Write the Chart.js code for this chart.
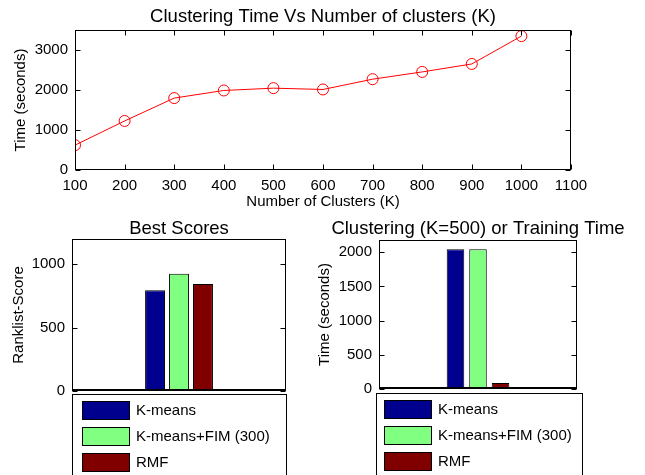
<!DOCTYPE html>
<html>
<head>
<meta charset="utf-8">
<script src="https://cdn.jsdelivr.net/npm/chart.js@4.4.1/dist/chart.umd.min.js"></script>
<style>
  body { margin: 0; background: #fff; width: 645px; height: 475px; position: relative; overflow: hidden; }
  canvas { position: absolute; }
  #topChart { left: 0; top: 0; }
  #leftChart { left: 0; top: 215px; }
  #rightChart { left: 310px; top: 215px; }
</style>
</head>
<body>
<canvas id="topChart" width="645" height="215"></canvas>
<canvas id="leftChart" width="310" height="260"></canvas>
<canvas id="rightChart" width="335" height="260"></canvas>
<script>
// top plot: clustering time per K
const clusterCounts = [100, 200, 300, 400, 500, 600, 700, 800, 900, 1000];
const clusterTimes = [621, 1226, 1798, 1988, 2046, 2013, 2270, 2452, 2651, 3347];
const xTicksTop = [100, 200, 300, 400, 500, 600, 700, 800, 900, 1000, 1100];
const yTicksTop = [0, 1000, 2000, 3000];

// bottom plots
const methods = ['K-means', 'K-means+FIM (300)', 'RMF'];
const bestScores = [795, 926, 845];
const trainingTimes = [2045, 2045, 88];
const yTicksScores = [0, 500, 1000];
const yTicksTimes = [0, 500, 1000, 1500, 2000];

const methodColors = ['#00008f', '#80ff80', '#800000'];
const FONT = "'Liberation Sans', Arial, sans-serif";

Chart.defaults.font.family = FONT;
Chart.defaults.font.size = 15;
Chart.defaults.color = '#000';

function useTicks(list) {
    return scale => { scale.ticks = list.map(v => ({ value: v })); };
}

const plainLabel = v => String(v);

function line(ctx, x1, y1, x2, y2) {
    ctx.beginPath();
    ctx.moveTo(x1, y1);
    ctx.lineTo(x2, y2);
    ctx.stroke();
}

// matlab style box, inward ticks, title and legend
const matlabAxes = {
    id: 'matlabAxes',
    afterDatasetsDraw(chart, args, opts) {
        const ctx = chart.ctx;
        const a = chart.chartArea;
        const L = Math.round(a.left) + 0.5, R = Math.round(a.right) - 0.5;
        const T = Math.round(a.top) + 0.5, B = Math.round(a.bottom) - 0.5;
        const tl = 5;
        ctx.save();
        ctx.strokeStyle = '#000';
        ctx.lineWidth = 1;

        if (opts.baseline) {
            const y0 = Math.round(chart.scales.y.getPixelForValue(0));
            ctx.lineWidth = 2;
            line(ctx, L, y0 - 1, R, y0 - 1);
            ctx.lineWidth = 1;
        }
        ctx.strokeRect(L, T, R - L, B - T);

        const ys = chart.scales.y;
        ys.ticks.forEach(t => {
            const py = Math.round(ys.getPixelForValue(t.value)) + 0.5;
            line(ctx, L, py, L + tl, py);
            line(ctx, R - tl, py, R, py);
        });
        if (opts.xTicks) {
            const xs = chart.scales.x;
            xs.ticks.forEach(t => {
                const px = Math.round(xs.getPixelForValue(t.value)) + 0.5;
                line(ctx, px, B, px, B - tl);
                line(ctx, px, T, px, T + tl);
            });
        }

        ctx.fillStyle = '#000';
        ctx.font = '18.5px ' + FONT;
        ctx.textAlign = 'center';
        ctx.textBaseline = 'middle';
        ctx.fillText(opts.title, (a.left + a.right) / 2 + (opts.titleShift || 0), opts.titleY);

        if (opts.legend) {
            const lg = opts.legend;
            ctx.fillStyle = '#fff';
            ctx.fillRect(lg.left, lg.top, lg.right - lg.left, chart.height - lg.top + 5);
            ctx.strokeRect(lg.left + 0.5, lg.top + 0.5, lg.right - lg.left, chart.height - lg.top + 5);
            ctx.font = '15px ' + FONT;
            ctx.textAlign = 'left';
            chart.data.datasets.forEach((ds, i) => {
                const y = lg.rowTop + i * 26;
                ctx.fillStyle = ds.backgroundColor;
                ctx.fillRect(lg.swatchX, y, 48, 19);
                ctx.strokeRect(lg.swatchX + 0.5, y + 0.5, 47, 18);
                ctx.fillStyle = '#000';
                ctx.fillText(ds.label, lg.swatchX + 54, y + 10);
            });
        }
        ctx.restore();
    }
};

new Chart(document.getElementById('topChart'), {
    type: 'line',
    data: {
        datasets: [{
            data: clusterCounts.map((k, i) => ({ x: k, y: clusterTimes[i] })),
            borderColor: '#ff0000',
            borderWidth: 1,
            pointStyle: 'circle',
            pointRadius: 5.5,
            pointBorderColor: '#ff0000',
            pointBackgroundColor: 'rgba(0,0,0,0)',
            pointBorderWidth: 1,
            tension: 0
        }]
    },
    options: {
        responsive: false,
        animation: false,
        layout: { padding: { top: 30, right: 74, left: 0, bottom: 0 } },
        plugins: {
            legend: { display: false },
            tooltip: { enabled: false },
            matlabAxes: { title: 'Clustering Time Vs Number of clusters (K)', titleY: 17, xTicks: true }
        },
        scales: {
            x: {
                type: 'linear', min: 100, max: 1100,
                afterBuildTicks: useTicks(xTicksTop),
                afterFit: s => { s.height = 45; },
                grid: { display: false, drawTicks: false },
                border: { display: false },
                ticks: { padding: 7, maxRotation: 0, callback: plainLabel },
                title: { display: true, text: 'Number of Clusters (K)', padding: { top: 0, bottom: 4 } }
            },
            y: {
                min: 0, max: 3500,
                afterBuildTicks: useTicks(yTicksTop),
                afterFit: s => { s.width = 75; },
                grid: { display: false, drawTicks: false },
                border: { display: false },
                ticks: { padding: 7, callback: plainLabel },
                title: { display: true, text: 'Time (seconds)', padding: { top: 12, bottom: 0 } }
            }
        }
    },
    plugins: [matlabAxes]
});

function barChart(id, values, ticks, yMax, yTitle, o) {
    return new Chart(document.getElementById(id), {
        type: 'bar',
        data: {
            labels: [''],
            datasets: methods.map((m, i) => ({
                label: m,
                data: [values[i]],
                backgroundColor: methodColors[i],
                borderColor: '#000',
                borderWidth: 1,
                borderSkipped: false,
                barPercentage: o.bar,
                categoryPercentage: o.cat
            }))
        },
        options: {
            responsive: false,
            animation: false,
            layout: { padding: o.padding },
            plugins: {
                legend: { display: false },
                tooltip: { enabled: false },
                matlabAxes: { title: o.title, titleY: o.titleY, baseline: true, legend: o.legend }
            },
            scales: {
                x: { display: false },
                y: {
                    min: 0, max: yMax,
                    afterBuildTicks: useTicks(ticks),
                    afterFit: s => { s.width = o.yWidth; },
                    grid: { display: false, drawTicks: false },
                    border: { display: false },
                    ticks: { padding: 7, callback: plainLabel },
                    title: { display: true, text: yTitle, padding: { top: o.yTitlePad, bottom: 0 } }
                }
            }
        },
        plugins: [matlabAxes]
    });
}

barChart('leftChart', bestScores, yTicksScores, 1200, 'Ranklist-Score', {
    padding: { top: 24, right: 24, bottom: 84, left: 0 },
    yWidth: 72, yTitlePad: 10, bar: 0.83, cat: 0.336,
    title: 'Best Scores', titleY: 14,
    legend: { left: 72, right: 286, top: 179, rowTop: 186, swatchX: 82 }
});

barChart('rightChart', trainingTimes, yTicksTimes, 2180, 'Time (seconds)', {
    padding: { top: 25, right: 68, bottom: 86, left: 0 },
    yWidth: 69, yTitlePad: 6, bar: 0.78, cat: 0.341,
    title: 'Clustering (K=500) or Training Time', titleY: 14,
    legend: { left: 66, right: 272, top: 178, rowTop: 185, swatchX: 74 }
});
</script>
</body>
</html>
